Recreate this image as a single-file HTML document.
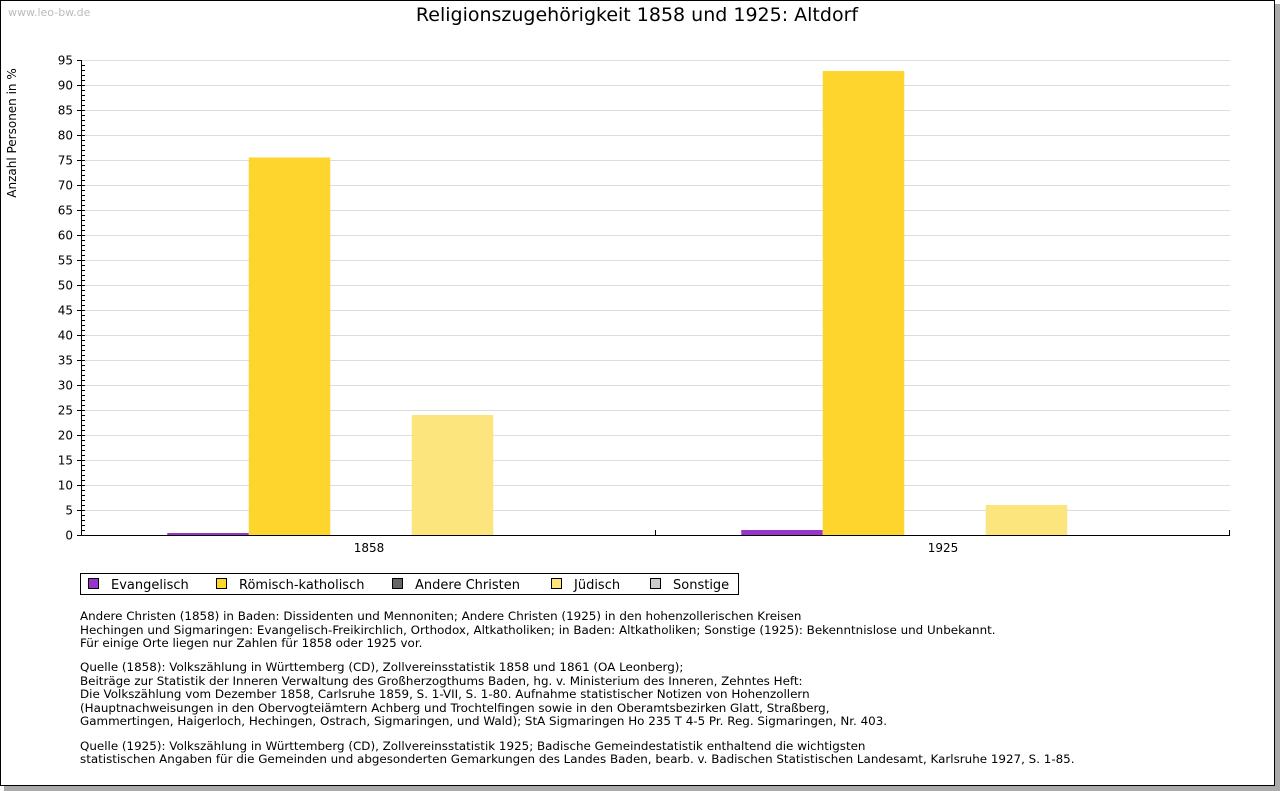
<!DOCTYPE html>
<html><head><meta charset="utf-8"><style>
html,body{margin:0;padding:0;background:#fff;}
svg{display:block;font-family:"DejaVu Sans","Liberation Sans",sans-serif;}
</style></head><body>
<svg id="chart" width="1280" height="791" viewBox="0 0 1280 791">
<rect x="4" y="4" width="1276" height="787" fill="#aaa"/>
<rect x="0.5" y="0.5" width="1274" height="785" fill="#fff" stroke="#000"/>
<text x="8" y="16" font-size="11" fill="#bbb">www.leo-bw.de</text>
<text x="637" y="21" font-size="19" text-anchor="middle" fill="#000">Religionszugehörigkeit 1858 und 1925: Altdorf</text>
<text transform="translate(16,133) rotate(-90)" font-size="12" text-anchor="middle">Anzahl Personen in %</text>
<g id="grid"></g><g id="bars"></g><g id="axes"></g>
<g>
<rect x="80.5" y="573.5" width="658" height="21" fill="#fff" stroke="#000"/>
<g id="legend"></g>
</g>
<g font-size="11.9" fill="#000">
<text x="80" y="620">Andere Christen (1858) in Baden: Dissidenten und Mennoniten; Andere Christen (1925) in den hohenzollerischen Kreisen</text>
<text x="80" y="634">Hechingen und Sigmaringen: Evangelisch-Freikirchlich, Orthodox, Altkatholiken; in Baden: Altkatholiken; Sonstige (1925): Bekenntnislose und Unbekannt.</text>
<text x="80" y="647">Für einige Orte liegen nur Zahlen für 1858 oder 1925 vor.</text>
<text x="80" y="671">Quelle (1858): Volkszählung in Württemberg (CD), Zollvereinsstatistik 1858 und 1861 (OA Leonberg);</text>
<text x="80" y="685">Beiträge zur Statistik der Inneren Verwaltung des Großherzogthums Baden, hg. v. Ministerium des Inneren, Zehntes Heft:</text>
<text x="80" y="698">Die Volkszählung vom Dezember 1858, Carlsruhe 1859, S. 1-VII, S. 1-80. Aufnahme statistischer Notizen von Hohenzollern</text>
<text x="80" y="712">(Hauptnachweisungen in den Obervogteiämtern Achberg und Trochtelfingen sowie in den Oberamtsbezirken Glatt, Straßberg,</text>
<text x="80" y="725">Gammertingen, Haigerloch, Hechingen, Ostrach, Sigmaringen, und Wald); StA Sigmaringen Ho 235 T 4-5 Pr. Reg. Sigmaringen, Nr. 403.</text>
<text x="80" y="750">Quelle (1925): Volkszählung in Württemberg (CD), Zollvereinsstatistik 1925; Badische Gemeindestatistik enthaltend die wichtigsten</text>
<text x="80" y="763">statistischen Angaben für die Gemeinden und abgesonderten Gemarkungen des Landes Baden, bearb. v. Badischen Statistischen Landesamt, Karlsruhe 1927, S. 1-85.</text>
</g>
</svg>
<script>
const categories = ["1858", "1925"];
const seriesNames = ["Evangelisch", "Römisch-katholisch", "Andere Christen", "Jüdisch", "Sonstige"];
const seriesColors = ["#9933cc", "#fdd52d", "#666666", "#fde57e", "#cccccc"];
const evangelisch = [0.4, 1.0];
const katholisch = [75.5, 92.8];
const andere = [0, 0];
const juedisch = [24.0, 6.0];
const sonstige = [0, 0];
const yTicks = [0,5,10,15,20,25,30,35,40,45,50,55,60,65,70,75,80,85,90,95];

const NS = "http://www.w3.org/2000/svg";
const X0 = 82, X1 = 1230, Y0 = 535, YTOP = 60, YMAX = 95;
const y = v => Y0 - v * (Y0 - YTOP) / YMAX;
const groupW = (X1 - X0) / categories.length;
const barW = 81.5;
const xBar = (ci, si) => X0 + 2 + ci * groupW + (groupW - barW * seriesNames.length) / 2 + si * barW;
function mk(tag, attrs, parent) { const e = document.createElementNS(NS, tag); for (const k in attrs) e.setAttribute(k, attrs[k]); parent.appendChild(e); return e; }
const grid = document.getElementById('grid'), bars = document.getElementById('bars'), axes = document.getElementById('axes'), legend = document.getElementById('legend');
yTicks.forEach(t => {
  if (t > 0) { const g = mk('line', {x1: X0, x2: X1, y1: y(t) + 0.5, y2: y(t) + 0.5, stroke: '#ddd'}, grid);
    
     }
  mk('line', {x1: 77, x2: X0, y1: y(t) + 0.5, y2: y(t) + 0.5, stroke: '#000'}, axes);
  const l = mk('text', {x: 73, y: y(t) + 4.5, 'font-size': 12, 'text-anchor': 'end'}, axes);
  l.textContent = t;
  
  
});
for (let v = 0; v < YMAX; v++) mk('line', {x1: X0, x2: 85, y1: y(v) + 0.5, y2: y(v) + 0.5, stroke: '#000'}, axes);
const allSeries = [evangelisch, katholisch, andere, juedisch, sonstige];
categories.forEach((c, ci) => {
  allSeries.forEach((s, si) => {
    const v = s[ci];
    if (v <= 0) return;
    const r = mk('rect', {x: xBar(ci, si), y: y(v), width: barW, height: Y0 - y(v), fill: seriesColors[si]}, bars);
    
    
  });
  const cl = mk('text', {x: X0 + ci * groupW + groupW / 2, y: 552, 'font-size': 12, 'text-anchor': 'middle'}, axes);
  cl.textContent = c;
  
  
  mk('line', {x1: X0 + (ci + 1) * groupW - 0.5, x2: X0 + (ci + 1) * groupW - 0.5, y1: Y0 - 5, y2: Y0, stroke: '#000'}, axes);
});
mk('line', {x1: X0 - 0.5, x2: X0 - 0.5, y1: YTOP, y2: Y0 + 1, stroke: '#000'}, axes);
mk('line', {x1: X0, x2: X1, y1: Y0 + 0.5, y2: Y0 + 0.5, stroke: '#000'}, axes);
const lx = [88, 216, 392, 551, 650];
seriesNames.forEach((n, i) => {
  const r = mk('rect', {x: lx[i] + 0.5, y: 578.5, width: 10, height: 10, fill: seriesColors[i], stroke: '#000'}, legend);
  
  
  const t = mk('text', {x: lx[i] + 23, y: 589, 'font-size': 13}, legend);
  t.textContent = n;
  
  
});
</script>
</body></html>
